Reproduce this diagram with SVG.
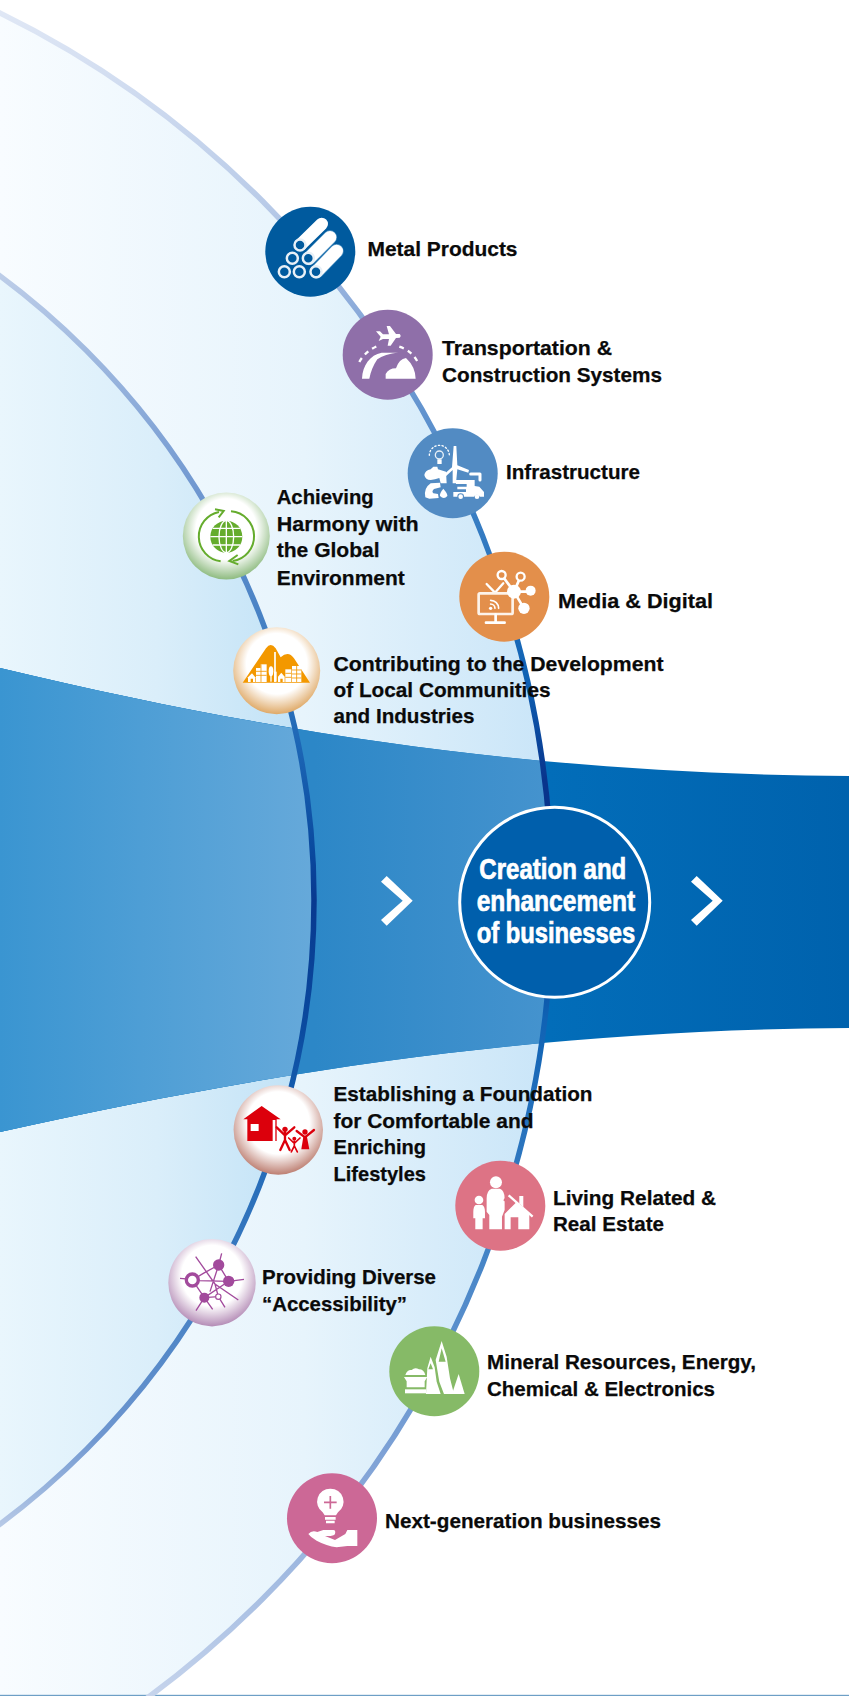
<svg xmlns="http://www.w3.org/2000/svg" width="849" height="1696" viewBox="0 0 849 1696">
<style>
.t{font-family:"Liberation Sans",Arial,sans-serif;font-weight:700;font-size:21px;fill:#0a0a0a;stroke:#0a0a0a;stroke-width:.25}
.c{font-family:"Liberation Sans",Arial,sans-serif;font-weight:700;font-size:29.5px;fill:#fff;stroke:#fff;stroke-width:.7}
.w{fill:#fff}
.wl{fill:none;stroke:#fff;stroke-linecap:round;stroke-linejoin:round}
</style>
<defs>
<linearGradient id="fo" gradientUnits="userSpaceOnUse" x1="0" y1="0" x2="552" y2="0"><stop offset="0" stop-color="#f8fcff"/><stop offset=".55" stop-color="#e7f4fc"/><stop offset="1" stop-color="#c9e5f8"/></linearGradient>
<linearGradient id="fi" gradientUnits="userSpaceOnUse" x1="0" y1="0" x2="314" y2="0"><stop offset="0" stop-color="#e9f6fd"/><stop offset=".5" stop-color="#daeefa"/><stop offset="1" stop-color="#bfe1f6"/></linearGradient>
<linearGradient id="br" gradientUnits="userSpaceOnUse" x1="548" y1="0" x2="849" y2="0"><stop offset="0" stop-color="#026db9"/><stop offset="1" stop-color="#0062ad"/></linearGradient>
<linearGradient id="bm" gradientUnits="userSpaceOnUse" x1="314" y1="0" x2="548" y2="0"><stop offset="0" stop-color="#2c87c7"/><stop offset="1" stop-color="#4593ce"/></linearGradient>
<linearGradient id="bl" gradientUnits="userSpaceOnUse" x1="0" y1="0" x2="314" y2="0"><stop offset="0" stop-color="#3a95d1"/><stop offset="1" stop-color="#66a9da"/></linearGradient>
<linearGradient id="so" gradientUnits="userSpaceOnUse" x1="0" y1="0" x2="0" y2="1696"><stop offset="0" stop-color="#e2e9f6"/><stop offset=".12" stop-color="#b9cbe8"/><stop offset=".2" stop-color="#7fa2d6"/><stop offset=".3" stop-color="#3a7fc4"/><stop offset=".4" stop-color="#0f62b4"/><stop offset=".46" stop-color="#08348c"/><stop offset=".54" stop-color="#08348c"/><stop offset=".6" stop-color="#0f62b4"/><stop offset=".72" stop-color="#3a7fc4"/><stop offset=".86" stop-color="#7fa2d6"/><stop offset="1" stop-color="#c6d4ec"/></linearGradient>
<linearGradient id="si" gradientUnits="userSpaceOnUse" x1="0" y1="260" x2="0" y2="1540"><stop offset="0" stop-color="#c2d1ea"/><stop offset=".18" stop-color="#6f97d0"/><stop offset=".3" stop-color="#3f7dc2"/><stop offset=".38" stop-color="#1c66b5"/><stop offset=".46" stop-color="#0a4a9f"/><stop offset=".5" stop-color="#08398f"/><stop offset=".6" stop-color="#0a4a9f"/><stop offset=".68" stop-color="#1c66b5"/><stop offset=".8" stop-color="#3f7dc2"/><stop offset=".92" stop-color="#6f97d0"/><stop offset="1" stop-color="#c2d1ea"/></linearGradient>
<radialGradient id="sg" cx=".5" cy=".42" r=".58"><stop offset=".6" stop-color="#fff"/><stop offset="1" stop-color="#8ebb80"/></radialGradient>
<radialGradient id="sy" cx=".5" cy=".42" r=".58"><stop offset=".6" stop-color="#fff"/><stop offset="1" stop-color="#dfa967"/></radialGradient>
<radialGradient id="sr" cx=".5" cy=".42" r=".58"><stop offset=".6" stop-color="#fff"/><stop offset="1" stop-color="#bd7f72"/></radialGradient>
<radialGradient id="sp" cx=".5" cy=".42" r=".58"><stop offset=".6" stop-color="#fff"/><stop offset="1" stop-color="#b48cb6"/></radialGradient>
<clipPath id="co"><circle cx="-436.6" cy="900" r="988.6"/></clipPath>
<clipPath id="ci"><circle cx="-463" cy="900" r="777"/></clipPath>
<path id="band" d="M0 668C300 740 560 774 849 776V1028C560 1030 300 1065 0 1132Z"/>
</defs>
<rect width="849" height="1696" fill="#fff"/>
<g id="background">
<circle cx="-436.6" cy="900" r="988.6" fill="url(#fo)"/>
<circle cx="-463" cy="900" r="777" fill="url(#fi)"/>
<use href="#band" fill="url(#br)"/>
<use href="#band" fill="url(#bm)" clip-path="url(#co)"/>
<use href="#band" fill="url(#bl)" clip-path="url(#ci)"/>
<rect x="0" y="1694.8" width="849" height="1.2" fill="#6d9fc6"/>
</g>
<g id="connectors" fill="none" stroke-width="5.5">
<circle cx="-436.6" cy="900" r="988.6" stroke="url(#so)"/>
<circle cx="-463" cy="900" r="777" stroke="url(#si)"/>
<polygon class="w" stroke="none" points="381,881.7 386.7,876 412.7,900.7 386.7,925.7 381,920 402.7,900.7"/>
<polygon class="w" stroke="none" points="691,881.7 696.7,876 722.7,900.7 696.7,925.7 691,920 712.7,900.7"/>
</g>

<g id="node-creation">
<circle cx="554.7" cy="902.3" r="95" fill="#005fac" stroke="#fff" stroke-width="3"/>
<text class="c" x="479.3" y="879" textLength="147" lengthAdjust="spacingAndGlyphs">Creation and</text>
<text class="c" x="476.7" y="911" textLength="158.5" lengthAdjust="spacingAndGlyphs">enhancement</text>
<text class="c" x="476.7" y="943.3" textLength="158.5" lengthAdjust="spacingAndGlyphs">of businesses</text>
</g>

<g id="node-metal">
<circle cx="310.3" cy="251.7" r="45" fill="#005a9e"/>
<g transform="translate(240,190) scale(.3333)">
<g fill="none" stroke-linecap="round"><path d="M183 163L245 102" stroke="#fff" stroke-width="38"/><path d="M207 205L270 142" stroke="#5a9ac8" stroke-width="42"/><path d="M207 205L270 142" stroke="#fff" stroke-width="38"/><path d="M230 245L290 183" stroke="#5a9ac8" stroke-width="42"/><path d="M230 245L290 183" stroke="#fff" stroke-width="38"/></g>
<g fill="#005a9e" stroke="#e8f0f7" stroke-width="7.5"><circle cx="180" cy="165" r="16.5"/><circle cx="157" cy="205" r="16.5"/><circle cx="205" cy="205" r="16.5"/><circle cx="133" cy="245" r="16.5"/><circle cx="178" cy="245" r="16.5"/><circle cx="228" cy="245" r="16.5"/></g>
</g>
<text class="t" x="367.5" y="255.7" textLength="150" lengthAdjust="spacingAndGlyphs">Metal Products</text>
</g>

<g id="node-transport">
<circle cx="387.7" cy="354.7" r="45" fill="#8f6fa9"/>
<g transform="translate(240,190) scale(.3333)">
<path class="w" d="M408 424L420 424L429 433L447 433L440 408L450 408L468 432L479 432Q485 438 479 443L468 444L452 467L443 467L447 447L429 447L416 453L422 440Z"/>
<path class="wl" stroke-width="7" stroke-dasharray="14 14" style="stroke-linecap:butt" d="M358 516Q375 485 412 468"/>
<path class="wl" stroke-width="7" stroke-dasharray="14 14" style="stroke-linecap:butt" d="M478 470Q515 482 533 516"/>
<path class="w" d="M366 566C368 525 390 495 425 488L475 488C450 490 425 498 412 508C400 525 392 545 388 566Z"/>
<path class="w" d="M437 566L437 552Q446 535 468 535Q478 506 498 504Q526 530 527 566Z"/>
</g>
<text class="t" x="442" y="355" textLength="170" lengthAdjust="spacingAndGlyphs">Transportation &amp;</text>
<text class="t" x="442" y="381.7" textLength="220" lengthAdjust="spacingAndGlyphs">Construction Systems</text>
</g>

<g id="node-infrastructure">
<circle cx="452.7" cy="473.3" r="45" fill="#528bc3"/>
<g transform="translate(400,420) scale(.3333)">
<circle cx="118" cy="105" r="12" fill="none" stroke="#e8f0f7" stroke-width="4"/>
<path class="w" d="M112 118H125V132H112Z"/>
<path class="wl" stroke-width="4" stroke-dasharray="4 7" d="M88 106A30 30 0 0 1 148 106"/>
<path class="w" d="M161 78L169 78L172 136L207 150L205 158L172 148L168 190L158 190L158 150L132 174L126 168L156 142Z"/>
<path class="w" d="M73 165Q75 152 92 148L100 140H112L114 148L138 155L140 190H122L118 174Q105 178 92 180Q76 180 73 165Z"/>
<path class="w" d="M76 232Q70 205 92 190L120 188L122 202L102 207Q94 214 100 220L114 222L116 234L88 236Z"/>
<path class="w" d="M130 206Q144 222 142 228Q132 240 120 228Q118 220 130 206Z"/>
<path class="w" d="M168 180H224V198L238 200L252 216V230H240A10 10 0 0 0 222 230H192A10 10 0 0 0 172 230H160V216H198V208H172V200H200V192H168Z"/>
<circle cx="182" cy="230" r="7" class="w"/><circle cx="231" cy="230" r="7" class="w"/>
<path class="wl" stroke-width="9" d="M212 162H240V180"/>
</g>
<text class="t" x="506" y="479" textLength="134" lengthAdjust="spacingAndGlyphs">Infrastructure</text>
</g>

<g id="node-media">
<circle cx="504.3" cy="596.7" r="45" fill="#e38f4b"/>
<g transform="translate(160,480) scale(.3333)">
<path class="wl" stroke-width="7" d="M1030 310L1005 338L980 312"/>
<rect x="956" y="340" width="102" height="62" rx="4" fill="none" stroke="#fdf3ea" stroke-width="8"/>
<path class="wl" stroke-width="8" d="M1007 404V425M978 428H1034"/>
<circle cx="992" cy="385" r="5" class="w"/>
<path class="wl" stroke-width="5" d="M992 372A13 13 0 0 1 1005 385M992 361A24 24 0 0 1 1016 385"/>
<path class="wl" stroke-width="8" d="M1062 335L1025 285M1062 335L1082 290M1062 335H1112M1062 335L1092 385"/>
<circle cx="1062" cy="335" r="21" class="w"/>
<circle cx="1025" cy="285" r="12" fill="#e38f4b" stroke="#fff" stroke-width="7"/>
<circle cx="1082" cy="290" r="12" fill="#e38f4b" stroke="#fff" stroke-width="7"/>
<circle cx="1112" cy="332" r="15" class="w"/>
<circle cx="1092" cy="385" r="17" class="w"/>
</g>
<text class="t" x="558" y="607.5" textLength="155" lengthAdjust="spacingAndGlyphs">Media &amp; Digital</text>
</g>

<g id="node-environment">
<circle cx="226.3" cy="536" r="43.5" fill="url(#sg)"/>
<g transform="translate(160,480) scale(.3333)">
<g fill="none" stroke="#65ac2d" stroke-width="6">
<path d="M177 96A75 75 0 0 0 182 244" /><path d="M213 94A75 75 0 0 1 218 243"/>
<path d="M165 88L191 93L176 112M233 225L208 243L235 253"/>
</g>
<circle cx="199" cy="170" r="48" fill="#65ac2d"/>
<g fill="none" stroke="#fff" stroke-width="4"><ellipse cx="199" cy="170" rx="22" ry="48"/><path d="M199 122V218M151 170H247M158 145H240M158 195H240"/></g>
</g>
<text class="t" x="276.7" y="504" textLength="97" lengthAdjust="spacingAndGlyphs">Achieving</text>
<text class="t" x="276.7" y="530.7" textLength="142" lengthAdjust="spacingAndGlyphs">Harmony with</text>
<text class="t" x="276.7" y="557.3" textLength="103" lengthAdjust="spacingAndGlyphs">the Global</text>
<text class="t" x="276.7" y="584.7" textLength="128" lengthAdjust="spacingAndGlyphs">Environment</text>
</g>

<g id="node-communities">
<circle cx="276.7" cy="670.7" r="43.5" fill="url(#sy)"/>
<g transform="translate(160,480) scale(.3333)">
<path fill="#f39800" d="M248 608L318 505Q332 485 347 505L362 532Q385 510 402 535L450 608Z"/>
<g class="w">
<rect x="342.5" y="516" width="5" height="90"/>
<rect x="288" y="564" width="30" height="42"/>
<rect x="302" y="553" width="18" height="53"/>
<ellipse cx="333" cy="574" rx="7" ry="15"/><rect x="331" y="585" width="4" height="20"/>
<rect x="342" y="575" width="8" height="30"/>
<path d="M264 606V592L276 580L286 592V606Z"/>
<path d="M354 606V590L364 578L374 590V606Z"/>
<rect x="376" y="568" width="18" height="38"/>
<rect x="396" y="558" width="28" height="48"/>
</g>
<path fill="none" stroke="#f39800" stroke-width="2.5" d="M288 574H320M288 586H320M303 553V606M396 570H424M396 582H424M396 594H424M410 558V606M376 580H394M376 592H394"/>
<path fill="#f39800" d="M272 596h7v10h-7zM361 596h7v10h-7z"/>
</g>
<text class="t" x="333.5" y="670.7" textLength="330" lengthAdjust="spacingAndGlyphs">Contributing to the Development</text>
<text class="t" x="333.5" y="697" textLength="217" lengthAdjust="spacingAndGlyphs">of Local Communities</text>
<text class="t" x="333.5" y="723.3" textLength="141" lengthAdjust="spacingAndGlyphs">and Industries</text>
</g>

<g id="node-lifestyles">
<circle cx="278.3" cy="1130" r="44.7" fill="url(#sr)"/>
<g transform="translate(160,1070) scale(.3333)">
<path fill="#dc000c" fill-rule="evenodd" d="M250 148L305 108L362 148H350V213H262V148ZM272 162V183H296V162Z"/>
<path fill="#fff" d="M338 150H346V213H338Z"/>
<g fill="none" stroke="#dc000c" stroke-width="7" stroke-linecap="round">
<path d="M350 172L375 196L403 172M375 186V212M375 210L361 240M375 210L389 240"/>
<path stroke-width="5" d="M386 204L403 220L420 204M403 214V228M403 228L394 246M403 228L412 246"/>
<path d="M410 183L435 202L462 180M435 200V215"/>
</g>
<circle cx="375" cy="178" r="8" fill="#dc000c"/><circle cx="403" cy="206" r="6" fill="#dc000c"/><circle cx="435" cy="186" r="8" fill="#dc000c"/>
<path fill="#dc000c" d="M430 200H441L448 238H424Z"/>
</g>
<text class="t" x="333.5" y="1101" textLength="259" lengthAdjust="spacingAndGlyphs">Establishing a Foundation</text>
<text class="t" x="333.5" y="1127.7" textLength="200" lengthAdjust="spacingAndGlyphs">for Comfortable and</text>
<text class="t" x="333.5" y="1154" textLength="92.5" lengthAdjust="spacingAndGlyphs">Enriching</text>
<text class="t" x="333.5" y="1180.7" textLength="92.5" lengthAdjust="spacingAndGlyphs">Lifestyles</text>
</g>

<g id="node-living">
<circle cx="500.3" cy="1205.7" r="45" fill="#dd7385"/>
<g transform="translate(160,1070) scale(.3333)">
<circle cx="957" cy="390" r="13" class="w"/>
<path class="w" d="M947 405H967Q975 410 975 425V445H968V478H946V445H940V425Q940 410 947 405Z"/>
<circle cx="1008" cy="337" r="18" class="w"/>
<path class="w" d="M995 356H1020Q1034 362 1034 385V420L1026 440V478H988V435L980 425V385Q980 362 995 356Z"/>
<path class="w" d="M1078 378H1090V412L1078 400Z"/>
<path fill="none" stroke="#dd7385" stroke-width="14" d="M1034 385L1122 448"/>
<path class="w" d="M1034 478V432L1070 396L1108 432V478H1075V442H1052V478Z"/>
<path fill="none" stroke="#fff" stroke-width="7" d="M1046 376L1118 440"/>
</g>
<text class="t" x="553" y="1204.6" textLength="163" lengthAdjust="spacingAndGlyphs">Living Related &amp;</text>
<text class="t" x="553" y="1231" textLength="111" lengthAdjust="spacingAndGlyphs">Real Estate</text>
</g>

<g id="node-accessibility">
<circle cx="212" cy="1282.7" r="43.7" fill="url(#sp)"/>
<g transform="translate(160,1070) scale(.3333)">
<g fill="none" stroke="#a24a9c" stroke-width="4">
<path d="M107 560L165 642L235 690M60 625L118 630M185 550L176 585M206 634L252 628M176 585L130 610L97 630M97 630L133 683M133 683L108 722M133 683L158 718M175 680L195 712M115 632L206 634M133 683L206 634M176 585L206 634M176 585L150 665M133 683L175 680M165 642L175 680"/>
</g>
<circle cx="97" cy="630" r="18" fill="#fff" stroke="#a24a9c" stroke-width="10"/>
<circle cx="176" cy="585" r="17" fill="#a24a9c"/><circle cx="206" cy="634" r="17" fill="#a24a9c"/><circle cx="133" cy="683" r="15" fill="#a24a9c"/>
<circle cx="175" cy="680" r="8" fill="#fff" stroke="#a24a9c" stroke-width="3.5"/>
</g>
<text class="t" x="262" y="1284.3" textLength="174" lengthAdjust="spacingAndGlyphs">Providing Diverse</text>
<text class="t" x="262" y="1310.7" textLength="145" lengthAdjust="spacingAndGlyphs">“Accessibility”</text>
</g>

<g id="node-mineral">
<circle cx="434.3" cy="1371.3" r="45" fill="#86ba67"/>
<g transform="translate(270,1310) scale(.3333)">
<path class="w" d="M406 195Q412 178 425 180Q435 170 447 178Q462 178 466 195Z"/>
<path class="w" d="M402 201H472L464 214V232H410V214Z"/>
<path class="w" d="M405 238H468V250H405Z"/>
<path class="w" d="M468 252L472 175L482 140L494 172L500 215L512 252Z"/>
<path class="w" d="M497 150L515 93L530 140L540 205L552 252H522L508 215Z"/>
<path class="w" d="M546 252L566 192L584 252Z"/>
<path fill="#86ba67" d="M506 155L515 115L527 155ZM475 178L482 160L489 178Z"/>
</g>
<text class="t" x="487" y="1369" textLength="269" lengthAdjust="spacingAndGlyphs">Mineral Resources, Energy,</text>
<text class="t" x="487" y="1395.6" textLength="228" lengthAdjust="spacingAndGlyphs">Chemical &amp; Electronics</text>
</g>

<g id="node-next">
<circle cx="332" cy="1518.3" r="45" fill="#cc6896"/>
<g transform="translate(270,1310) scale(.3333)">
<path class="w" d="M181 536A39 39 0 0 1 204 607L198 616H164L158 607A39 39 0 0 1 181 536Z"/>
<path fill="none" stroke="#cc6896" stroke-width="5" d="M181 558V596M162 577H200"/>
<path class="w" d="M165 621H197V629H165ZM168 632H194V640H168Z"/>
<path class="w" d="M115 672Q125 660 142 666L160 660H190Q198 660 195 672Q190 680 165 678L195 690L226 672L232 660H262V708H232L200 712Q170 708 140 692Q122 682 115 672Z"/>
</g>
<text class="t" x="385" y="1528" textLength="276" lengthAdjust="spacingAndGlyphs">Next-generation businesses</text>
</g>
</svg>
